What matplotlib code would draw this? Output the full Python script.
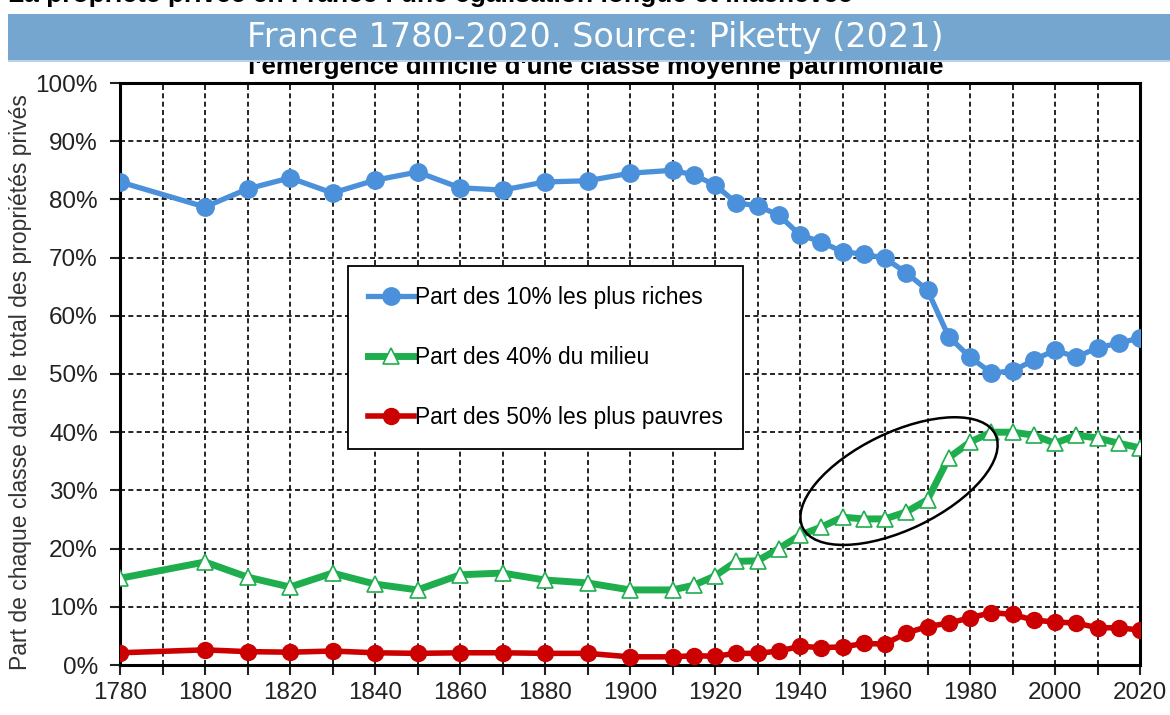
import matplotlib
matplotlib.use("Agg")
import matplotlib.pyplot as plt
import matplotlib.transforms as mtransforms
from matplotlib.patches import Ellipse, Rectangle

# ---- data ----
years = [1780, 1800, 1810, 1820, 1830, 1840, 1850, 1860, 1870, 1880, 1890, 1900,
         1910, 1915, 1920, 1925, 1930, 1935, 1940, 1945, 1950, 1955, 1960, 1965,
         1970, 1975, 1980, 1985, 1990, 1995, 2000, 2005, 2010, 2015, 2020]
top10 = [83.0, 78.7, 81.8, 83.7, 81.1, 83.3, 84.7, 82.0, 81.6, 83.0, 83.2, 84.5,
         85.0, 84.2, 82.5, 79.4, 78.9, 77.3, 73.9, 72.7, 71.0, 70.6, 69.9, 67.4,
         64.4, 56.4, 52.9, 50.2, 50.5, 52.4, 54.1, 52.9, 54.5, 55.3, 56.2]
mid40 = [14.9, 17.7, 15.1, 13.4, 15.8, 13.9, 12.9, 15.5, 15.8, 14.6, 14.1, 12.9,
         12.9, 13.7, 15.3, 17.8, 17.9, 20.0, 22.3, 23.7, 25.4, 25.1, 25.1, 26.3,
         28.4, 35.6, 38.3, 40.0, 40.0, 39.5, 38.1, 39.5, 39.0, 38.1, 37.3]
bottom50 = [2.1, 2.6, 2.3, 2.2, 2.4, 2.1, 2.0, 2.1, 2.1, 2.0, 2.0, 1.4,
            1.4, 1.6, 1.5, 2.0, 2.0, 2.4, 3.2, 3.0, 3.1, 3.7, 3.6, 5.5,
            6.6, 7.2, 8.1, 9.0, 8.7, 7.7, 7.4, 7.2, 6.4, 6.4, 6.0]
series_labels = ["Part des 10% les plus riches", "Part des 40% du milieu",
                 "Part des 50% les plus pauvres"]
x_ticks = list(range(1780, 2021, 10))
x_labels = [str(y) if (y - 1780) % 20 == 0 else "" for y in x_ticks]
y_ticks = list(range(0, 101, 10))
y_labels = [f"{v}%" for v in y_ticks]

banner_text = "France 1780-2020. Source: Piketty (2021)"
subtitle = "l'émergence difficile d'une classe moyenne patrimoniale"
top_title = "La propriété privée en France : une égalisation longue et inachevée"
y_title = "Part de chaque classe dans le total des propriétés privés"

plt.rcParams['font.family'] = ['Liberation Sans', 'DejaVu Sans']

W, H = 1170, 715
fig = plt.figure(figsize=(W / 100, H / 100), dpi=100)
fig.patch.set_facecolor("white")

ax = fig.add_axes([120 / W, 1 - 665 / H, (1140 - 120) / W, (665 - 83) / H])

blue = "#4a90da"
green = "#1fae4e"
red = "#cc0000"

ax.plot(years, top10, color=blue, lw=3.8, marker="o", ms=12.5,
        mfc=blue, mec=blue, label=series_labels[0], zorder=4)
ax.plot(years, mid40, color=green, lw=5, marker="^", ms=12,
        mfc="white", mec=green, mew=1.2, label=series_labels[1], zorder=4)
ax.plot(years, bottom50, color=red, lw=4, marker="o", ms=11.5,
        mfc=red, mec=red, label=series_labels[2], zorder=4)

ax.set_xlim(1780, 2020)
ax.set_ylim(0, 100)
ax.set_xticks(x_ticks)
ax.set_xticklabels(x_labels)
ax.set_yticks(y_ticks)
ax.set_yticklabels(y_labels)
ax.tick_params(axis="both", direction="out", length=7, width=1.5,
               labelsize=17.5, labelcolor="#222222", color="#222222")
ax.tick_params(axis="x", pad=5)
ax.tick_params(axis="y", pad=9)
ax.grid(True, color="black", lw=1.2, linestyle=(0, (3, 2)), zorder=1)
ax.set_axisbelow(True)
for s in ax.spines.values():
    s.set_linewidth(2.2)
    s.set_color("black")

ax.set_ylabel(y_title, fontsize=16.5, color="#333333")
ax.yaxis.set_label_coords(-0.0863, 0.486)

leg = ax.legend(loc="upper left", bbox_to_anchor=(0.2235, 0.6856),
                fontsize=16.4, frameon=True, fancybox=False, framealpha=1,
                edgecolor="black", labelspacing=1.63, handlelength=2.0,
                handletextpad=0.05, borderpad=0.88, numpoints=1,
                borderaxespad=0)
leg.get_frame().set_linewidth(1.3)
leg.set_zorder(6)

# ellipse highlighting 1945-1985 rise
ell_trans = fig.dpi_scale_trans + mtransforms.ScaledTranslation(1963.3, 31.6, ax.transData)
ell = Ellipse((0, 0), 2.14, 0.97, angle=25.8, fill=False, edgecolor="black",
              lw=1.8, transform=ell_trans, zorder=5)
ax.add_artist(ell)

# titles / banner
fig.text(8 / W, 1 - 2 / H, top_title, fontsize=19, fontweight="bold",
         ha="left", va="baseline", color="black")
fig.text(596 / W, 1 - 74 / H, subtitle, fontsize=18.7, fontweight="bold",
         ha="center", va="baseline", color="black", zorder=1)
banner = Rectangle((8 / W, 1 - 60 / H), 1 - 8 / W, 46 / H, transform=fig.transFigure,
                   facecolor="#74a6cf", edgecolor="none", zorder=10)
fig.patches.append(banner)
line = Rectangle((8 / W, 1 - 62 / H), 1 - 8 / W, 2 / H, transform=fig.transFigure,
                 facecolor="#b8d2e8", edgecolor="none", zorder=10)
fig.patches.append(line)
fig.text(595 / W, 1 - 37 / H, banner_text, fontsize=24, color="white",
         ha="center", va="center", family="DejaVu Sans", zorder=11)

fig.savefig("out.png", dpi=100)
